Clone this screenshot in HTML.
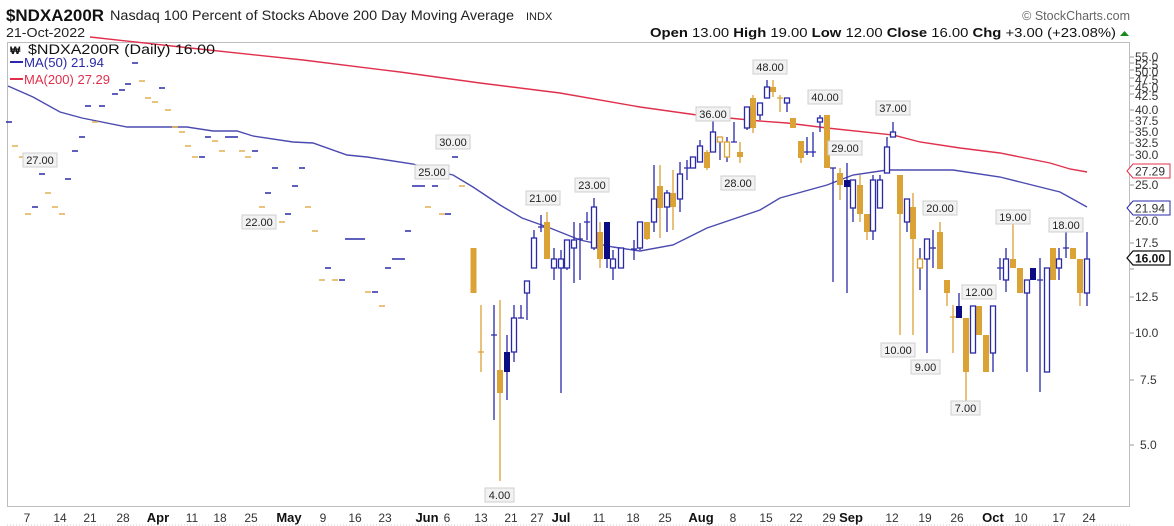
<!DOCTYPE html>
<html><head><meta charset="utf-8"><style>
html,body{margin:0;padding:0;background:#fff;width:1174px;height:526px;overflow:hidden}
svg{display:block}
text{font-family:"Liberation Sans",sans-serif}
</style></head><body>
<svg width="1174" height="526" viewBox="0 0 1174 526" xmlns="http://www.w3.org/2000/svg">
<!-- header -->
<text x="6" y="21" font-size="17" font-weight="bold" fill="#111" textLength="98" lengthAdjust="spacingAndGlyphs">$NDXA200R</text>
<text x="110" y="20" font-size="13.5" fill="#222" textLength="404" lengthAdjust="spacingAndGlyphs">Nasdaq 100 Percent of Stocks Above 200 Day Moving Average</text>
<text x="526" y="20" font-size="11" fill="#222">INDX</text>
<text x="6" y="37" font-size="13" fill="#222" textLength="79" lengthAdjust="spacingAndGlyphs">21-Oct-2022</text>
<text x="1130" y="20" font-size="12.5" fill="#666" text-anchor="end">© StockCharts.com</text>
<text x="650" y="37" font-size="13" fill="#111" textLength="466" lengthAdjust="spacingAndGlyphs"><tspan font-weight="bold">Open</tspan> 13.00  <tspan font-weight="bold">High</tspan> 19.00  <tspan font-weight="bold">Low</tspan> 12.00  <tspan font-weight="bold">Close</tspan> 16.00  <tspan font-weight="bold">Chg</tspan> +3.00 (+23.08%)</text>
<polygon points="1120,36 1129,36 1124.5,31" fill="#1a8a1a"/>

<!-- plot frame -->
<rect x="7.5" y="42.5" width="1122" height="464" fill="#fff" stroke="#bdbdbd" stroke-width="1"/>

<!-- MA200 -->
<polyline fill="none" stroke="#e0304c" stroke-width="1.4" points="90,37 190,48 303,60 400,72 480,83 560,93 640,107 697,115 760,121 787,123 827,128 893,135 920,142 960,148 1000,153 1050,163 1070,169 1087,172"/>
<!-- MA50 -->
<polyline fill="none" stroke="#4a4ab0" stroke-width="1.4" points="8,86 33,97 60,112 82,118 127,127 187,127 213,131 237,131 253,136 293,142 313,143 347,155 367,157 413,164 440,172 453,175 473,187 500,205 522,218 550,228 580,240 613,247 640,251 673,245 707,228 760,210 780,198 827,185 853,175 887,170 953,170 1000,177 1020,182 1060,192 1087,207"/>

<!-- early dashes -->
<path fill="none" stroke="#2a2aa8" stroke-width="1.6" d="M6 122h6M32 207h6M39 174h6M65 179h6M72 151h6M79 137h6M85 106h6M99 106h6M112 94h6M119 90h6M125 84h6M132 63h6M159 88h6M199 157h6M205 137h6M225 137h13M252 151h6M265 193h6M272 168h6M285 214h6M292 186h6M299 168h6M325 268h6M339 280h6M345 239h20M372 292h6M385 268h6M392 259h13M405 231h6M412 186h13M432 186h6M445 214h6M452 157h6"/>
<path fill="none" stroke="#e3b050" stroke-width="1.6" d="M12 146h6M19 157h6M25 214h6M45 193h6M52 207h6M59 214h6M92 122h6M139 81h6M145 98h6M152 102h6M165 110h6M172 127h6M179 132h6M185 146h6M192 157h6M212 141h6M219 151h6M239 151h6M245 157h6M259 207h6M279 222h6M305 207h6M312 231h6M319 280h6M332 280h6M365 292h6M379 306h6M425 207h6M439 214h6M459 186h6"/>

<!-- wicks gold -->
<path fill="none" stroke="#dba236" stroke-width="1.3" d="M481 305V372M478 352h6M500 300V481M547 212V259M600 222V268M647 222V240M660 165V238M673 170V230M707 150V170M740 142V163M753 95V133M773 80V97M780 95V112M777 98h6M793 118V128M801 141V163M827 115V168M840 168V200M860 175V222M867 214V240M900 175V335M913 193V335M940 222V269M947 280V306M953 305V353M950 317h6M966 318V405M979 306V335M986 335V372M1013 216V268M1020 268V293M1053 248V280M1073 248V259M1080 259V306"/>
<!-- wicks blue -->
<path fill="none" stroke="#2a2aa8" stroke-width="1.3" d="M494 305V420M491 335h6M507 335V400M514 305V362M521 305V318M518 318h6M527 281V320M534 230V268M541 215V232M538 227h6M554 248V280M561 250V393M567 240V270M574 222V283M580 223V280M577 239h6M587 212V240M584 222h6M594 198V250M607 222V268M613 250V280M621 248V268M634 240V260M631 249h6M640 222V250M654 165V232M667 190V232M680 162V212M687 160V180M684 168h6M693 157V168M700 140V162M713 120V152M720 137V160M727 137V162M734 122V142M731 142h6M747 107V130M760 103V120M767 80V98M787 98V112M807 137V155M804 152h6M813 132V157M810 152h6M820 115V132M833 168V282M830 168h6M847 163V293M853 180V222M873 175V240M880 175V208M887 137V173M893 122V137M907 199V232M920 248V290M927 239V353M933 230V268M930 248h6M959 293V318M973 306V353M993 306V372M1000 258V280M997 268h6M1006 248V292M1027 280V372M1033 268V280M1040 258V392M1037 280h6M1047 268V372M1059 248V280M1066 230V258M1063 248h6M1087 232V306"/>

<!-- gold bodies -->
<g fill="#dba236">
<rect x="470.5" y="248" width="6" height="45"/>
<rect x="497" y="370" width="6" height="23"/>
<rect x="544" y="222" width="6" height="37"/>
<rect x="597" y="232" width="6" height="27"/>
<rect x="644" y="222" width="6" height="17"/>
<rect x="657" y="186" width="6" height="22"/>
<rect x="670" y="193" width="6" height="14"/>
<rect x="704" y="152" width="6" height="16"/>
<rect x="737" y="152" width="6" height="5"/>
<rect x="750" y="98" width="6" height="30"/>
<rect x="770" y="87" width="6" height="5"/>
<rect x="790" y="118" width="6" height="10"/>
<rect x="798" y="141" width="6" height="17"/>
<rect x="824" y="115" width="6" height="53"/>
<rect x="837" y="173" width="6" height="12"/>
<rect x="857" y="185" width="6" height="29"/>
<rect x="864" y="214" width="6" height="18"/>
<rect x="897" y="175" width="6" height="39"/>
<rect x="910" y="207" width="6" height="32"/>
<rect x="937" y="232" width="6" height="37"/>
<rect x="944" y="280" width="6" height="13"/>
<rect x="963" y="318" width="6" height="54"/>
<rect x="976" y="306" width="6" height="29"/>
<rect x="983" y="335" width="6" height="37"/>
<rect x="1010" y="259" width="6" height="9"/>
<rect x="1017" y="268" width="6" height="25"/>
<rect x="1050" y="248" width="6" height="32"/>
<rect x="1070" y="248" width="6" height="11"/>
<rect x="1077" y="259" width="6" height="34"/>
</g>
<!-- navy bodies -->
<g fill="#0c0c85">
<rect x="504" y="352" width="6" height="20"/>
<rect x="604" y="222" width="6" height="37"/>
<rect x="844" y="180" width="6" height="7"/>
<rect x="956" y="306" width="6" height="12"/>
<rect x="1030" y="268" width="6" height="12"/>
</g>
<!-- hollow bodies -->
<g fill="#fff" stroke="#2a2aa8" stroke-width="1.3">
<rect x="511.5" y="318" width="5" height="34"/>
<rect x="524.5" y="281" width="5" height="12"/>
<rect x="531.5" y="238" width="5" height="30"/>
<rect x="551.5" y="259" width="5" height="9"/>
<rect x="558.5" y="259" width="5" height="9"/>
<rect x="564.5" y="240" width="5" height="28"/>
<rect x="571.5" y="240" width="5" height="8"/>
<rect x="591.5" y="207" width="5" height="41"/>
<rect x="610.5" y="259" width="5" height="9"/>
<rect x="618.5" y="248" width="5" height="20"/>
<rect x="637.5" y="222" width="5" height="26"/>
<rect x="651.5" y="199" width="5" height="23"/>
<rect x="664.5" y="193" width="5" height="14"/>
<rect x="677.5" y="174" width="5" height="25"/>
<rect x="690.5" y="157" width="5" height="11"/>
<rect x="697.5" y="146" width="5" height="16"/>
<rect x="710.5" y="132" width="5" height="20"/>
<rect x="717.5" y="137" width="5" height="5" stroke="#dba236"/>
<rect x="724.5" y="142" width="5" height="15" stroke="#dba236"/>
<rect x="744.5" y="107" width="5" height="21"/>
<rect x="757.5" y="103" width="5" height="12"/>
<rect x="764.5" y="87" width="5" height="11"/>
<rect x="784.5" y="98" width="5" height="5"/>
<rect x="817.5" y="118" width="5" height="4"/>
<rect x="850.5" y="180" width="5" height="28"/>
<rect x="870.5" y="180" width="5" height="51"/>
<rect x="877.5" y="180" width="5" height="28"/>
<rect x="884.5" y="147" width="5" height="26"/>
<rect x="890.5" y="132" width="5" height="5"/>
<rect x="904.5" y="199" width="5" height="23"/>
<rect x="917.5" y="259" width="5" height="9" stroke="#dba236"/>
<rect x="924.5" y="239" width="5" height="20"/>
<rect x="970.5" y="306" width="5" height="47"/>
<rect x="990.5" y="306" width="5" height="47"/>
<rect x="1003.5" y="259" width="5" height="21"/>
<rect x="1024.5" y="280" width="5" height="13"/>
<rect x="1044.5" y="268" width="5" height="104"/>
<rect x="1056.5" y="259" width="5" height="9"/>
<rect x="1084.5" y="259" width="5" height="34"/>
</g>

<!-- annotation labels -->
<g font-size="11" fill="#222" text-anchor="middle">
<g fill="#f2f2f2" stroke="#cfcfcf" stroke-width="1">
<rect x="23" y="153" width="34" height="14"/><rect x="242" y="215" width="34" height="14"/>
<rect x="436" y="135" width="34" height="14"/><rect x="415" y="165" width="34" height="14"/>
<rect x="526" y="191" width="34" height="14"/><rect x="575" y="178" width="34" height="14"/>
<rect x="721" y="176" width="34" height="14"/><rect x="696" y="107" width="34" height="14"/>
<rect x="753" y="60" width="34" height="14"/><rect x="808" y="90" width="34" height="14"/>
<rect x="828" y="141" width="34" height="14"/><rect x="876" y="101" width="34" height="14"/>
<rect x="881" y="343" width="34" height="14"/><rect x="911" y="360" width="29" height="14"/>
<rect x="923" y="201" width="34" height="14"/><rect x="962" y="285" width="34" height="14"/>
<rect x="951" y="401" width="29" height="14"/><rect x="996" y="210" width="34" height="14"/>
<rect x="1049" y="218" width="34" height="14"/><rect x="485" y="488" width="29" height="14"/>
</g>
<text x="40" y="164">27.00</text><text x="259" y="226">22.00</text>
<text x="453" y="146">30.00</text><text x="432" y="176">25.00</text>
<text x="543" y="202">21.00</text><text x="592" y="189">23.00</text>
<text x="738" y="187">28.00</text><text x="713" y="118">36.00</text>
<text x="770" y="71">48.00</text><text x="825" y="101">40.00</text>
<text x="845" y="152">29.00</text><text x="893" y="112">37.00</text>
<text x="898" y="354">10.00</text><text x="925.5" y="371">9.00</text>
<text x="940" y="212">20.00</text><text x="979" y="296">12.00</text>
<text x="965.5" y="412">7.00</text><text x="1013" y="221">19.00</text>
<text x="1066" y="229">18.00</text><text x="499.5" y="499">4.00</text>
</g>

<!-- legend -->
<text x="10" y="54" font-size="11" font-weight="bold" fill="#111">₩</text>
<text x="28" y="54" font-family="DejaVu Sans,sans-serif" font-size="13.5" fill="#111" textLength="187" lengthAdjust="spacingAndGlyphs">$NDXA200R (Daily) 16.00</text>
<rect x="10" y="61" width="13" height="2" fill="#2a2aa8"/>
<text x="24" y="67" font-family="DejaVu Sans,sans-serif" font-size="13" fill="#2a2aa8" textLength="80" lengthAdjust="spacingAndGlyphs">MA(50) 21.94</text>
<rect x="10" y="78" width="13" height="2" fill="#e0304c"/>
<text x="24" y="84" font-family="DejaVu Sans,sans-serif" font-size="13" fill="#e0304c" textLength="86" lengthAdjust="spacingAndGlyphs">MA(200) 27.29</text>

<!-- right axis -->
<g stroke="#999" stroke-width="1">
<path d="M1130 57h4M1130 63h4M1130 70h4M1130 78h4M1130 86h4M1130 94h4M1130 110h4M1130 121h4M1130 132h4M1130 143h4M1130 155h4M1130 185h4M1130 203h4M1130 221h4M1130 243h4M1130 269h4M1130 297h4M1130 333h4M1130 380h4M1130 445h4"/>
</g>
<g font-size="12" fill="#333">
<text x="1135" y="61">55.0</text><text x="1135" y="69">52.5</text><text x="1135" y="76">50.0</text>
<text x="1135" y="84">47.5</text><text x="1135" y="92">45.0</text><text x="1135" y="100">42.5</text>
<text x="1135" y="114">40.0</text><text x="1135" y="125">37.5</text><text x="1135" y="136">35.0</text>
<text x="1135" y="147">32.5</text><text x="1135" y="159">30.0</text><text x="1135" y="189">25.0</text>
<text x="1135" y="225">20.0</text><text x="1135" y="247">17.5</text><text x="1135" y="301">12.5</text>
<text x="1135" y="337">10.0</text><text x="1140" y="384">7.5</text><text x="1140" y="449">5.0</text>
</g>
<g font-size="12">
<path d="M1127 171l6 -7h37v14h-37z" fill="#fff" stroke="#e0304c"/>
<text x="1135" y="175.5" fill="#333">27.29</text>
<path d="M1127 208l6 -7h37v14h-37z" fill="#fff" stroke="#2a2aa8"/>
<text x="1135" y="212.5" fill="#333">21.94</text>
<path d="M1127 258l6 -7h37v14h-37z" fill="#fff" stroke="#111" stroke-width="1.3"/>
<text x="1135" y="262.5" fill="#111" font-weight="bold">16.00</text>
</g>

<!-- bottom axis -->
<line x1="7" y1="525" x2="1130" y2="525" stroke="#ccc" stroke-dasharray="1,2"/>
<g font-size="12" fill="#333" text-anchor="middle">
<text x="27" y="522">7</text><text x="60" y="522">14</text><text x="90" y="522">21</text><text x="123" y="522">28</text>
<text x="158" y="522" font-weight="bold" font-size="13" fill="#111">Apr</text>
<text x="192" y="522">11</text><text x="220" y="522">18</text><text x="251" y="522">25</text>
<text x="289" y="522" font-weight="bold" font-size="13" fill="#111">May</text>
<text x="323" y="522">9</text><text x="355" y="522">16</text><text x="385" y="522">23</text>
<text x="427" y="522" font-weight="bold" font-size="13" fill="#111">Jun</text>
<text x="447" y="522">6</text><text x="481" y="522">13</text><text x="511" y="522">21</text><text x="537" y="522">27</text>
<text x="561" y="522" font-weight="bold" font-size="13" fill="#111">Jul</text>
<text x="599" y="522">11</text><text x="633" y="522">18</text><text x="665" y="522">25</text>
<text x="701" y="522" font-weight="bold" font-size="13" fill="#111">Aug</text>
<text x="733" y="522">8</text><text x="766" y="522">15</text><text x="796" y="522">22</text><text x="829" y="522">29</text>
<text x="851" y="522" font-weight="bold" font-size="13" fill="#111">Sep</text>
<text x="892" y="522">12</text><text x="925" y="522">19</text><text x="957" y="522">26</text>
<text x="993" y="522" font-weight="bold" font-size="13" fill="#111">Oct</text>
<text x="1021" y="522">10</text><text x="1059" y="522">17</text><text x="1089" y="522">24</text>
</g>
</svg>
</body></html>
